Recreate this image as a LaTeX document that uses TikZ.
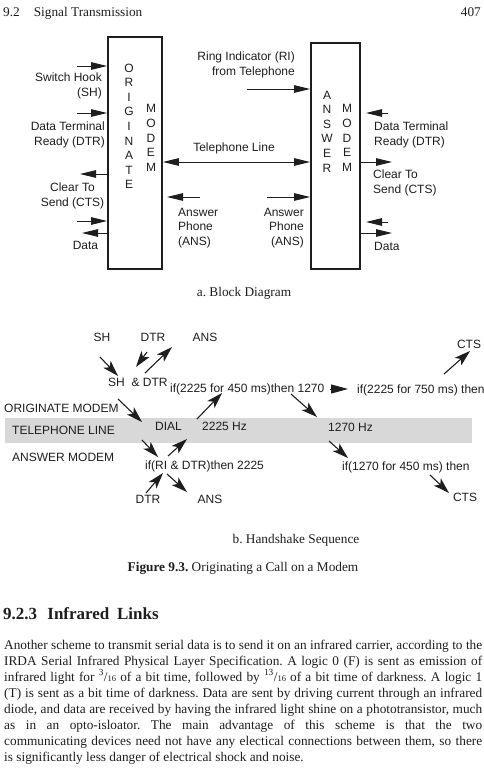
\documentclass[tikz,border=0pt]{standalone}
\usepackage{fontspec}
\setmainfont{Liberation Serif}
\newfontfamily\labelfont{Liberation Sans}
\usetikzlibrary{arrows.meta,positioning,calc}
\definecolor{ink}{HTML}{1E1E1E}
\definecolor{band}{HTML}{D8D8D8}
\newcommand{\bitfrac}[2]{\textsuperscript{#1}/{\fontsize{8.5}{9}\selectfont #2}}
\newcommand{\jl}[1]{\hbox to 478pt{#1}}
\frenchspacing

\begin{document}
\begin{tikzpicture}[x=1pt, y=-1pt, inner sep=0pt, text=ink,
  font=\fontsize{12}{14.6}\selectfont\labelfont,
  >={Triangle[length=16pt,width=7.5pt]},
  modem/.style={draw=ink, line width=1.8pt},
  col/.style={align=center},
  sig/.style={->, draw=ink, line width=0.9pt},
  hs/.style={-{Stealth[length=16pt,width=10pt,inset=4pt]}, draw=ink, line width=1.1pt},
  serif/.style={font=\fontsize{13.3}{16}\selectfont\rmfamily},
  bodyln/.style={serif, anchor=base west}]
\fill[white] (0,0) rectangle (484,768);
\useasboundingbox (0,0) rectangle (484,768);
\clip (0,0) rectangle (484,768);

\node[serif, anchor=base west] (runhead) at (3,16.5) {9.2\hspace{14pt}Signal Transmission};
\node[serif, anchor=base east] (folio) at (481,16.5) {407};

% a. Block Diagram
\node[modem, minimum width=54, minimum height=232] (orig) at (135,153) {};
\node[modem, minimum width=49, minimum height=226] (ans) at (335.5,156) {};
\node[col] (origword) at (129,126.4) {O\\R\\I\\G\\I\\N\\A\\T\\E};
\node[col] (origmodem) at (151,138) {M\\O\\D\\E\\M};
\node[col] (answord) at (327,131.5) {A\\N\\S\\W\\E\\R};
\node[col] (ansmodem) at (347,138) {M\\O\\D\\E\\M};

\node[anchor=north east, align=right] (shlbl) at (102,72.7) {Switch Hook\\(SH)};
\node[anchor=north east, align=right] (dtrlbl) at (105,121.7) {Data Terminal\\Ready (DTR)};
\node[anchor=north, align=center] (ctslbl) at (72.5,182.7) {Clear To\\Send (CTS)};
\node (datalbl) at (85.5,245) {Data};
\node[anchor=north east, align=right] (rilbl) at (295,51.7) {Ring Indicator (RI)\\from Telephone};
\node[anchor=base] (tellbl) at (234,151.3) {Telephone Line};
\node[anchor=north west, align=left] (ansllbl) at (178,207.7) {Answer\\Phone\\(ANS)};
\node[anchor=north east, align=right] (ansrlbl) at (304,207.7) {Answer\\Phone\\(ANS)};
\node[anchor=north west, align=left] (rdtrlbl) at (374,121.7) {Data Terminal\\Ready (DTR)};
\node[anchor=north west, align=left] (rctslbl) at (373,169.7) {Clear To\\Send (CTS)};
\node[anchor=west] (rdatalbl) at (374,246) {Data};

\coordinate (shin) at (77,66);
\coordinate (dtrin) at (77,113);
\coordinate (ctsout) at (80,174);
\coordinate (datain) at (77,221);
\coordinate (dataout) at (82,233);
\draw[sig] (shin) -- (shin -| orig.west);
\draw[sig] (dtrin) -- (dtrin -| orig.west);
\draw[sig] (ctsout -| orig.west) -- (ctsout);
\draw[sig] (datain) -- (datain -| orig.west);
\draw[sig] (dataout -| orig.west) -- (dataout);

\coordinate (riin) at (247,89);
\coordinate (telmid) at (234,162);
\coordinate (ansback) at (200,197);
\coordinate (ansfwd) at (267,197);
\draw[sig] (riin) -- (riin -| ans.west);
\draw[sig, <->] (telmid -| orig.east) -- (telmid -| ans.west);
\draw[sig] (ansback) -- ++(-33,0);
\draw[sig] (ansfwd) -- (ansfwd -| ans.west);

\coordinate (rdtrin) at (388,113);
\coordinate (rctsout) at (392,162);
\coordinate (rdatain) at (388,222);
\coordinate (rdataout) at (392,233);
\draw[sig] (rdtrin) -- ++(-22,0);
\draw[sig] (rctsout -| ans.east) -- (rctsout);
\draw[sig] (rdatain) -- ++(-22,0);
\draw[sig] (rdataout -| ans.east) -- (rdataout);

\node[serif, anchor=base] (capa) at (244,296) {a. Block Diagram};

% b. Handshake Sequence
\node[fill=band, minimum width=467, minimum height=25] (telband) at (238.5,430.5) {};
\node[anchor=base] (sh) at (102,341.3) {SH};
\node[anchor=base] (dtr) at (153,341.3) {DTR};
\node[anchor=base] (ansup) at (205,341.3) {ANS};
\node[anchor=base west] (shdtr) at (108,386.3) {SH\ \ \& DTR};
\node[anchor=base west] (if450) at (170,392.3) {if(2225 for 450 ms)then 1270};
\node[anchor=base west] (if750) at (357,393.3) {if(2225 for 750 ms) then};
\node[anchor=base] (ctsup) at (469,348.3) {CTS};
\node[anchor=base west] (origmod) at (4,412.3) {ORIGINATE MODEM};
\node[anchor=base west] (telline) at (12,434.3) {TELEPHONE LINE};
\node[anchor=base west] (dial) at (155,430.3) {DIAL};
\node[anchor=base west] (hzhigh) at (202,430.3) {2225 Hz};
\node[anchor=base west] (hzlow) at (328,431.3) {1270 Hz};
\node[anchor=base west] (ansmod) at (12,461.3) {ANSWER MODEM};
\node[anchor=base west] (ifri) at (145,469.3) {if(RI \& DTR)then 2225};
\node[anchor=base west] (if1270) at (342,470.3) {if(1270 for 450 ms) then};
\node[anchor=base] (dtrlow) at (148,503.3) {DTR};
\node[anchor=base] (anslow) at (210,503.3) {ANS};
\node[anchor=base] (ctslow) at (465,501.3) {CTS};

\coordinate (shgo) at (100,357);
\coordinate (dtrgo) at (147,352);
\coordinate (ansgo) at (145,373);
\coordinate (dialgo) at (118,399);
\coordinate (highgo) at (197,419);
\coordinate (lowgo) at (291,394);
\coordinate (waitgo) at (330,389);
\coordinate (ctsgo) at (444,374);
\coordinate (rigo) at (142,440);
\coordinate (answgo) at (168,456);
\coordinate (dtrlowgo) at (146,493);
\coordinate (anslowgo) at (167,474);
\coordinate (hearlow) at (329,441);
\coordinate (ctslowgo) at (430,475);
\draw[hs] (shgo) -- ++(18,19);
\draw[hs] (dtrgo) -- ++(-11,15);
\draw[hs] (ansgo) -- ++(27,-26);
\draw[hs] (dialgo) -- ++(24,23);
\draw[hs] (highgo) -- ++(25,-26);
\draw[hs] (lowgo) -- ++(26,23);
\draw[-{Triangle[length=17pt,width=9pt]}, draw=ink, line width=0.9pt] (waitgo) -- ++(18,0);
\draw[hs] (ctsgo) -- ++(26,-23);
\draw[hs] (rigo) -- ++(16,17);
\draw[hs] (answgo) -- ++(19,-17);
\draw[hs] (dtrlowgo) -- ++(17,-20);
\draw[hs] (anslowgo) -- ++(20,18);
\draw[hs] (hearlow) -- ++(19,17);
\draw[hs] (ctslowgo) -- ++(19,18);

\node[serif, anchor=base] (capb) at (296,543) {b. Handshake Sequence};
\node[serif, anchor=base] (figcap) at (243,571) {\textbf{Figure 9.3.} Originating a Call on a Modem};

% 9.2.3
\node[anchor=base west, font=\fontsize{17}{20}\selectfont\rmfamily\bfseries] (sect) at (3,619) {9.2.3\hspace{0.6em}Infrared\hspace{0.45em}Links};
\node[bodyln] (ln1) at (4,649) {\jl{Another scheme to transmit serial data is to send it on an infrared carrier, according to the}};
\node[bodyln] (ln2) at (4,665) {\jl{IRDA Serial Infrared Physical Layer Specification. A logic 0 (F) is sent as emission of}};
\node[bodyln] (ln3) at (4,681) {\jl{infrared light for \bitfrac{3}{16} of a bit time, followed by \bitfrac{13}{16} of a bit time of darkness. A logic 1}};
\node[bodyln] (ln4) at (4,697) {\jl{(T) is sent as a bit time of darkness. Data are sent by driving current through an infrared}};
\node[bodyln] (ln5) at (4,713) {\jl{diode, and data are received by having the infrared light shine on a phototransistor, much}};
\node[bodyln] (ln6) at (4,729) {\jl{as in an opto-isloator. The main advantage of this scheme is that the two}};
\node[bodyln] (ln7) at (4,745) {\jl{communicating devices need not have any electical connections between them, so there}};
\node[bodyln] (ln8) at (4,761) {is significantly less danger of electrical shock and noise.};
\end{tikzpicture}
\end{document}
